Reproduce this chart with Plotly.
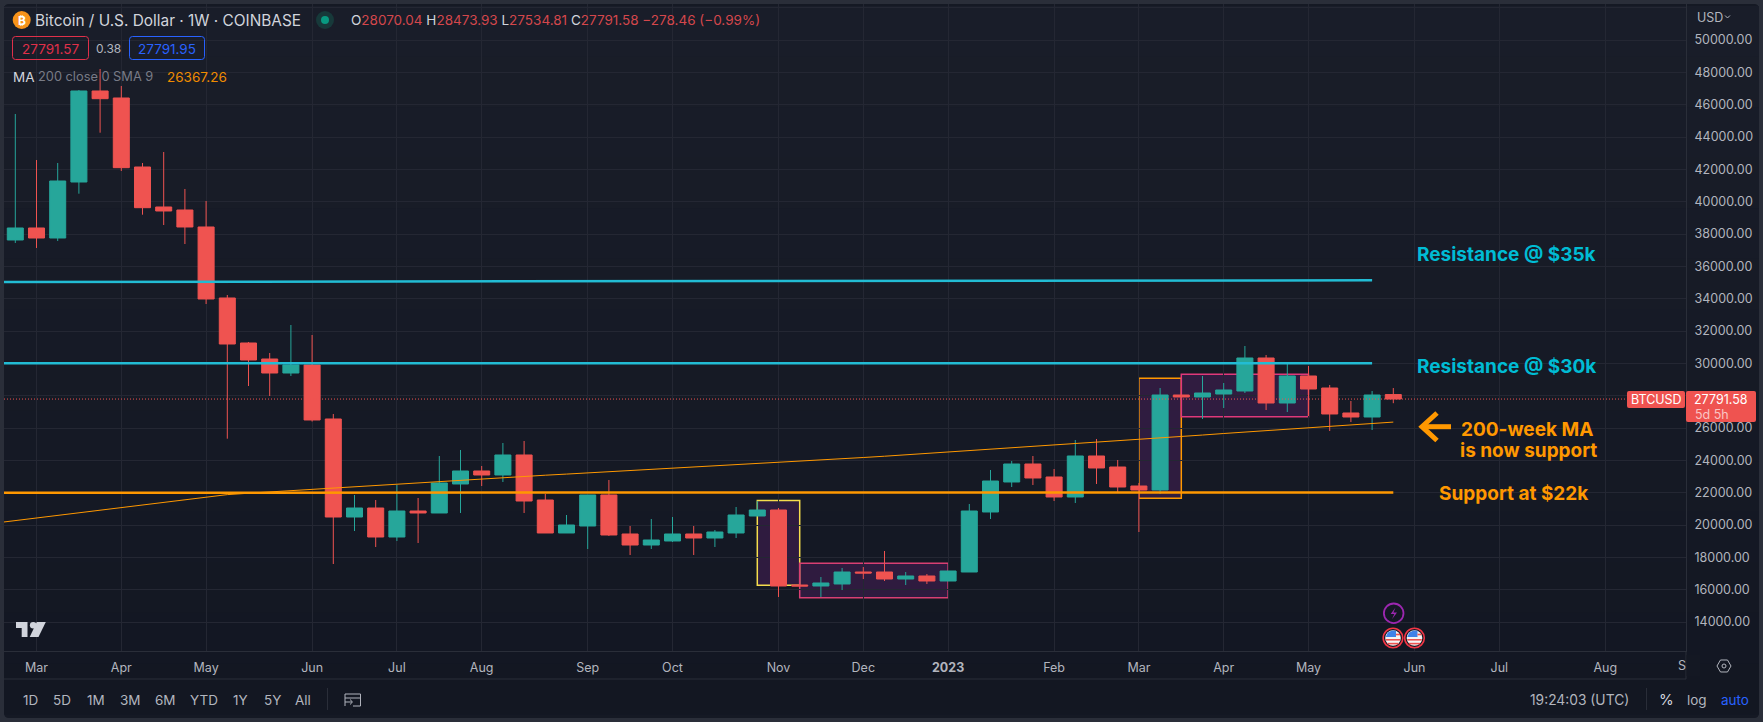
import pandas as pd
import plotly.graph_objects as go

W, H = 1763, 722
L, R, T, B = 4, 1686, 4, 651
FONT = "Inter"

week_start = "2022-02-21"
n_weeks = 66
dates = pd.date_range(week_start, periods=n_weeks, freq="7D").strftime("%Y-%m-%d").tolist()

opens = [37631,38373,37754,41218,46848,46415,42146,39672,39486,38435,34043,31259,30269,29403,29898,26558,
         20495,21052,19258,20866,20743,22537,23341,23094,24331,21547,19506,19939,21856,19444,18763,19011,
         19444,19196,19506,20557,20928,16289,16227,16351,17093,17093,16660,16846,16536,17093,20805,22661,
         23774,22970,21733,24269,23588,22413,22166,28042,27919,28104,28290,30331,27547,29218,28475,26929,
         26681,28070.04]
highs = [45425,42579,42394,46910,48209,47157,42394,43074,40786,40043,34228,31321,30640,32372,31754,26867,
         21856,21547,22475,21671,24269,24640,23650,25073,25197,21918,20619,21856,22784,19939,20372,20495,
         19939,19691,21114,21485,21052,16289,16784,17340,17402,18392,17093,16969,17155,21300,23403,23960,
         24269,23465,25259,25321,24021,22600,28475,28042,29218,28785,31074,30517,30021,29836,28661,27671,
         28290,28473.93]
lows = [37445,37136,37569,40495,44268,41899,39196,38558,37383,33671,25339,28599,27980,29218,26400,17588,
        19629,18640,19011,18887,20743,20743,22413,22661,20743,19506,19506,18516,19320,18145,18516,18949,
        18145,18640,19196,20557,15547,16227,15547,15979,16660,16536,16289,16351,16536,17093,20372,22351,
        22475,21485,21361,22537,21980,19567,21918,27919,26558,27238,28166,27114,26990,26743,25815,26372,
        25877,27534.81]
closes = [38373,37754,41280,46848,46372,42104,39629,39425,38435,33981,31197,30207,29403,29898,26496,20495,
          21052,19258,20866,20743,22599,23341,23094,24331,21485,19506,20000,21856,19382,18763,19073,19444,
          19196,19567,20619,20928,16227,16227,16413,17093,17031,16660,16846,16536,17155,20866,22722,23774,
          22908,21733,24269,23527,22351,22166,28042,27919,28166,28352,30331,27547,29218,28413,26867,26681,
          28042,27791.58]

ma_dates = ["2022-02-14"] + dates
ma200 = [20112,20272,20430,20595,20755,20915,21075,21235,21395,21555,21720,21880,21965,22045,22125,22205,
         22285,22365,22445,22525,22605,22685,22800,22870,22945,23015,23080,23150,23220,23290,23360,23430,
         23500,23575,23650,23725,23805,23885,23955,24030,24100,24175,24255,24340,24425,24510,24597,24685,
         24775,24860,24945,25030,25120,25205,25296,25385,25475,25565,25660,25750,25840,25933,26025,26115,
         26205,26298,26367]

res35_dates = ["2022-02-14", dates[64]]
res35 = [35030, 35140]
res30_dates = ["2022-02-14", dates[64]]
res30 = [30000, 30010]
sup22_dates = ["2022-02-14", dates[65]]
sup22 = [22000, 22010]
last_price = 27791.58

# x positions of the axis: candle i sits at 15.3 + 21.2 i pixels
def idx_date(i):
    return pd.Timestamp(week_start) + pd.Timedelta(days=7 * i)

x_range = [idx_date((L - 15.3) / 21.2), idx_date((R - 15.3) / 21.2)]
y_range = [12206, 52229]

month_ticks = ["2022-02-28","2022-03-28","2022-04-25","2022-05-30","2022-06-27","2022-07-25","2022-08-29",
               "2022-09-26","2022-10-31","2022-11-28","2022-12-26","2023-01-30","2023-02-27","2023-03-27",
               "2023-04-24","2023-05-29","2023-06-26","2023-07-31"]
month_text = ["Mar","Apr","May","Jun","Jul","Aug","Sep","Oct","Nov","Dec","<b>2023</b>","Feb","Mar","Apr",
              "May","Jun","Jul","Aug"]
price_ticks = list(range(14000, 54000, 2000))
price_text = ["14000.00","16000.00","18000.00","20000.00","22000.00","24000.00","26000.00","","30000.00",
              "32000.00","34000.00","36000.00","38000.00","40000.00","42000.00","44000.00","46000.00",
              "48000.00","50000.00",""]

boxes = [
    ("2022-10-24", "2022-11-07", 16270, 21516, "#f5dd4d"),
    ("2022-11-07", "2022-12-26", 15503, 17631, "#d93f73"),
    ("2023-02-27", "2023-03-13", 21650, 29076, "#ff9800"),
    ("2023-03-13", "2023-04-24", 26700, 29323, "#e0387a"),
]

RED, GREEN = "#ef5350", "#26a69a"
ORANGE, CYAN = "#ff9800", "#00bcd4"
GREY, DIM, TXT = "#b2b5be", "#787b86", "#d1d4dc"
OUTER, GRID = "#2a2e39", "#242733"

def fx(px):
    return (px - L) / (R - L)

def fy(py):
    return (B - py) / (B - T)

fig = go.Figure()
fig.add_trace(go.Candlestick(
    x=dates, open=opens, high=highs, low=lows, close=closes,
    increasing=dict(line=dict(color=GREEN, width=1), fillcolor=GREEN),
    decreasing=dict(line=dict(color=RED, width=1), fillcolor=RED),
    whiskerwidth=0, showlegend=False, hoverinfo="skip"))
for xs, ys, col, w in [
    (res35_dates, res35, "#22bcd4", 2.5),
    (res30_dates, res30, "#22bcd4", 2.5),
    (sup22_dates, sup22, ORANGE, 2.5),
    (ma_dates, ma200, ORANGE, 1),
]:
    fig.add_trace(go.Scatter(x=xs, y=ys, mode="lines", line=dict(color=col, width=w),
                             showlegend=False, hoverinfo="skip"))
fig.add_trace(go.Scatter(x=x_range, y=[last_price, last_price], mode="lines",
                         line=dict(color=RED, width=1, dash="1px,2px"), showlegend=False, hoverinfo="skip"))

shapes, annos = [], []

def rect(x0, y0, x1, y1, fill=None, line=None, lw=1, layer="above"):
    shapes.append(dict(type="rect", xref="paper", yref="paper", x0=fx(x0), x1=fx(x1), y0=fy(y0), y1=fy(y1),
                       fillcolor=fill or "rgba(0,0,0,0)", line=dict(color=line or "rgba(0,0,0,0)", width=lw if line else 0),
                       layer=layer))

def circle(cx, cy, r, fill=None, line=None, lw=1, layer="above"):
    shapes.append(dict(type="circle", xref="paper", yref="paper", x0=fx(cx - r), x1=fx(cx + r), y0=fy(cy - r), y1=fy(cy + r),
                       fillcolor=fill or "rgba(0,0,0,0)", line=dict(color=line or "rgba(0,0,0,0)", width=lw if line else 0),
                       layer=layer))

def path(points, close=False, fill=None, line=None, lw=1, layer="above"):
    d = "M " + " L ".join(f"{fx(a):.6f},{fy(b):.6f}" for a, b in points) + (" Z" if close else "")
    shapes.append(dict(type="path", xref="paper", yref="paper", path=d, fillcolor=fill or "rgba(0,0,0,0)",
                       line=dict(color=line or "rgba(0,0,0,0)", width=lw if line else 0), layer=layer))

def rounded(x0, y0, x1, y1, r, fill=None, line=None, lw=1, layer="above"):
    a, b, c, d = fx(x0), fx(x1), fy(y0), fy(y1)
    rx, ry = r / (R - L), r / (B - T)
    p = (f"M {a+rx:.6f},{c:.6f} L {b-rx:.6f},{c:.6f} Q {b:.6f},{c:.6f} {b:.6f},{c-ry:.6f} "
         f"L {b:.6f},{d+ry:.6f} Q {b:.6f},{d:.6f} {b-rx:.6f},{d:.6f} L {a+rx:.6f},{d:.6f} "
         f"Q {a:.6f},{d:.6f} {a:.6f},{d+ry:.6f} L {a:.6f},{c-ry:.6f} Q {a:.6f},{c:.6f} {a+rx:.6f},{c:.6f} Z")
    shapes.append(dict(type="path", xref="paper", yref="paper", path=p, fillcolor=fill or "rgba(0,0,0,0)",
                       line=dict(color=line or "rgba(0,0,0,0)", width=lw if line else 0), layer=layer))

def text(px, py, s, color=TXT, size=13, anchor="left", weight=None):
    f = dict(family=FONT, size=size, color=color)
    if weight:
        f["weight"] = weight
    annos.append(dict(xref="paper", yref="paper", x=fx(px), y=fy(py), text=s, showarrow=False, xanchor=anchor,
                      yanchor="middle", font=f, align=anchor, borderpad=0, borderwidth=0))

# panel background: a soft vertical gradient
rounded(4, 4, 1759, 718, 5, fill="#151924", layer="below")
top_rgb, bot_rgb = (25, 29, 41), (19, 23, 34)
steps = 14
for k in range(steps):
    t = k / (steps - 1)
    c = tuple(round(a + (b - a) * t) for a, b in zip(top_rgb, bot_rgb))
    y0 = 6 + (714 - 6) * k / steps
    y1 = 6 + (714 - 6) * (k + 1) / steps
    rect(4, y0, 1759, y1 + 0.5, fill=f"rgb{c}", layer="below")

# drawn boxes, kept behind the candles
for x0, x1, y0, y1, col in boxes:
    shapes.append(dict(type="rect", xref="x", yref="y", x0=x0, x1=x1, y0=y0, y1=y1,
                       fillcolor="rgba(156,39,176,0.2)", line=dict(color=col, width=1.5), layer="below"))

# frames
path([(4, 679), (1686, 679)], line=OUTER)
path([(1686, 651), (1686, 679)], line=OUTER)

# last price labels
rounded(1627, 391, 1685, 408, 2, fill=RED)
rounded(1686, 391, 1756, 422, 2, fill=RED)
text(1656, 399.5, "BTCUSD", "#ffffff", 12.5, "center")
text(1721, 399.5, "27791.58", "#ffffff", 12.5, "center")
text(1695, 414, "5d 5h", "#f9c5c4", 12.5)

# header
circle(21.7, 20, 9, fill="#f7931a")
text(21.7, 20, "₿", "#ffffff", 12, "center", 700)
text(35, 20, "Bitcoin / U.S. Dollar · 1W · COINBASE", TXT, 15.4)
circle(325, 20, 9, fill="#17393a")
circle(325, 20, 4, fill="#089981")
V = "#d4474c"
text(351, 20, f'O<span style="color:{V}">28070.04</span> H<span style="color:{V}">28473.93</span> '
     f'L<span style="color:{V}">27534.81</span> C<span style="color:{V}">27791.58</span> '
     f'<span style="color:{V}">−278.46 (−0.99%)</span>', TXT, 13.5)
rounded(12.5, 36.5, 88.5, 59.5, 3, line="#e0304a")
text(50.5, 48.5, "27791.57", "#e0304a", 13.5, "center")
text(108.5, 49, "0.38", GREY, 12, "center")
rounded(129.5, 36.5, 204.5, 59.5, 3, line="#2962ff")
text(167, 48.5, "27791.95", "#2962ff", 13.5, "center")
text(13, 76.5, "MA", TXT, 13.5)
text(38, 76.5, "200 close 0 SMA 9", DIM, 12.8)
text(167, 76.5, "26367.26", "#f08c00", 13.5)

# drawing texts
text(1417, 254, "Resistance @ $35k", CYAN, 19, weight=700)
text(1417, 366.5, "Resistance @ $30k", CYAN, 19, weight=700)
text(1461, 429.5, "200-week MA", ORANGE, 19, weight=700)
text(1460, 450, "is now support", ORANGE, 19, weight=700)
text(1439, 493, "Support at $22k", ORANGE, 19, weight=700)
path([(1451, 426.7), (1423, 426.7)], line=ORANGE, lw=5)
path([(1437, 413), (1422, 426.7), (1437, 440.5)], line=ORANGE, lw=5)

# clipped month at the right edge
text(1678, 665.5, "S", GREY, 12.5)
rect(1686.5, 655, 1700, 676, fill="#141823")

# USD selector and settings hexagon
text(1696.5, 17.5, "USD", GREY, 12.5)
path([(1725, 15.5), (1727.5, 18), (1730, 15.5)], line=GREY, lw=1)
path([(1717, 666), (1720.5, 660), (1727.5, 660), (1731, 666), (1727.5, 672), (1720.5, 672)], close=True, line=GREY, lw=1)
circle(1724, 666, 2, line=GREY, lw=1)

# bottom toolbar
for xc, s in zip([30, 62, 96, 130.5, 165, 204, 240, 272, 302.5],
                 ["1D", "5D", "1M", "3M", "6M", "YTD", "1Y", "5Y", "All"]):
    text(xc, 700, s, GREY, 13.5, "center")
path([(327.5, 688), (327.5, 710)], line=OUTER)
path([(345, 706), (345, 694), (360.5, 694), (360.5, 706), (353, 706)], line=GREY, lw=1)
path([(345, 698), (360.5, 698)], line=GREY, lw=1)
path([(345, 702), (352, 702)], line=GREY, lw=1)
path([(350, 699.5), (352.5, 702), (350, 704.5)], line=GREY, lw=1)
text(1629, 700, "19:24:03 (UTC)", GREY, 13.8, "right")
path([(1646.5, 688), (1646.5, 710)], line=OUTER)
text(1666, 699, "%", TXT, 15, "center")
text(1697, 700, "log", GREY, 13.5, "center")
text(1735, 700, "auto", "#2962ff", 13.5, "center")

# TradingView logo
path([(16, 622), (27.5, 622), (27.5, 637), (21.7, 637), (21.7, 628), (16, 628)], close=True, fill=TXT)
circle(33.2, 625.3, 3.3, fill=TXT)
path([(36.8, 622), (45.8, 622), (38.5, 637), (29.7, 637)], close=True, fill=TXT)

# event markers
circle(1393.7, 613.3, 9.8, line="#9c27b0", lw=1.8)
path([(1395.5, 607.5), (1390.7, 614), (1394.3, 614), (1392, 619.2), (1397, 612.5), (1393.4, 612.5)], close=True, fill="#9c27b0")
for cx in [1393, 1414.5]:
    cy = 638
    circle(cx, cy, 9.8, fill="#131722", line="#f23645", lw=1.6)
    circle(cx, cy, 7.8, fill="#f4f4f4")
    path([(cx - 7.3, cy - 1), (cx - 5.2, cy - 5.4), (cx - 1, cy - 7.6), (cx + 3, cy - 7.2), (cx + 3, cy - 1)], close=True, fill="#3f82e8")
    path([(cx + 3, cy - 3.5), (cx + 7, cy - 3.5)], line="#ef5350", lw=1.6)
    path([(cx - 7.2, cy + 1.8), (cx + 7.2, cy + 1.8)], line="#ef5350", lw=1.6)
    path([(cx - 5.5, cy + 5.6), (cx + 5.5, cy + 5.6)], line="#ef5350", lw=1.6)

fig.update_layout(
    width=W, height=H, autosize=False,
    margin=dict(l=L, r=W - R, t=T, b=H - B, pad=0),
    paper_bgcolor=OUTER, plot_bgcolor="rgba(0,0,0,0)",
    boxgap=0.1, boxgroupgap=0.16, showlegend=False,
    hovermode=False, dragmode=False,
    font=dict(family=FONT, color=GREY, size=12.5),
    shapes=shapes, annotations=annos,
    xaxis=dict(type="date", range=x_range, rangeslider=dict(visible=False), tickmode="array",
               tickvals=month_ticks, ticktext=month_text, showgrid=True, gridcolor=GRID, gridwidth=1,
               zeroline=False, showline=True, linecolor=OUTER, linewidth=1, ticks="outside", ticklen=5,
               tickcolor="rgba(0,0,0,0)", tickangle=0, tickfont=dict(family=FONT, size=12.5, color=GREY)),
    yaxis=dict(side="right", range=y_range, tickmode="array", tickvals=price_ticks, ticktext=price_text,
               showgrid=True, gridcolor=GRID, gridwidth=1, zeroline=False, showline=True, linecolor=OUTER,
               linewidth=1, ticks="outside", ticklen=5, tickcolor="rgba(0,0,0,0)",
               tickfont=dict(family=FONT, size=12.5, color=GREY)),
)

fig.write_html("out.html", config=dict(displayModeBar=False),
               post_script="document.body.style.margin='0';document.body.style.overflow='hidden';")
